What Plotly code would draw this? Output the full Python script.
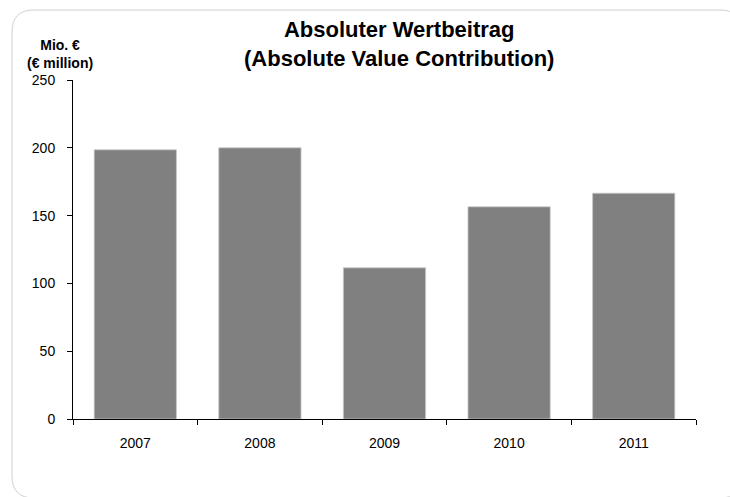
import plotly.graph_objects as go

years = ["2007", "2008", "2009", "2010", "2011"]
values = [198.5, 200, 111.5, 156.5, 166.5]
y_ticks = [0, 50, 100, 150, 200, 250]

W, H = 730, 497
L, R, T, B = 73, 34, 80, 78
pw, ph = W - L - R, H - T - B

def px(x):
    return (x - L) / pw

def py(y):
    return (H - B - y) / ph

fig = go.Figure(go.Bar(
    x=years, y=values,
    marker=dict(color="#808080", line=dict(color="#c8c8c8", width=0.8)),
    width=0.66,
))

# rounded frame
x0, y0, x1, y1, r = 12, 10, 742, 498, 22
path = (f"M {px(x0+r)},{py(y0)} L {px(x1-r)},{py(y0)} "
        f"Q {px(x1)},{py(y0)} {px(x1)},{py(y0+r)} "
        f"L {px(x1)},{py(y1-r)} Q {px(x1)},{py(y1)} {px(x1-r)},{py(y1)} "
        f"L {px(x0+r)},{py(y1)} Q {px(x0)},{py(y1)} {px(x0)},{py(y1-r)} "
        f"L {px(x0)},{py(y0+r)} Q {px(x0)},{py(y0)} {px(x0+r)},{py(y0)} Z")
fig.add_shape(type="path", path=path, xref="paper", yref="paper",
              line=dict(color="#d0d0d0", width=1), layer="below")

fig.add_annotation(text="<b>Absoluter Wertbeitrag<br>(Absolute Value Contribution)</b>",
                   xref="paper", yref="paper", x=px(399), y=py(44),
                   xanchor="center", yanchor="middle", showarrow=False,
                   font=dict(family="Liberation Sans, Arial", size=22, color="black"))
fig.add_annotation(text="<b>Mio. €<br>(€ million)</b>",
                   xref="paper", yref="paper", x=px(60), y=py(54),
                   xanchor="center", yanchor="middle", showarrow=False,
                   font=dict(family="Liberation Sans, Arial", size=14, color="black"))

fig.update_layout(
    width=W, height=H,
    margin=dict(l=L, r=R, t=T, b=B),
    paper_bgcolor="white", plot_bgcolor="white",
    showlegend=False,
    font=dict(family="Liberation Sans, Arial", size=13, color="black"),
    bargap=0.34,
)
fig.update_xaxes(type="category", showline=True, linecolor="black", linewidth=1,
                 ticks="outside", tickson="boundaries", ticklen=5, tickcolor="black",
                 showgrid=False, ticklabelstandoff=11,
                 tickfont=dict(family="Liberation Sans, Arial", size=14, color="black"))
fig.update_yaxes(range=[0, 250], tickvals=y_ticks, showline=True, linecolor="black",
                 linewidth=1, ticks="outside", ticklen=5, tickcolor="black",
                 showgrid=False, zeroline=False, ticklabelstandoff=9,
                 tickfont=dict(family="Liberation Sans, Arial", size=14, color="black"),
                 tickprefix="<b>", ticksuffix="</b>")

fig.write_html("out.html")
